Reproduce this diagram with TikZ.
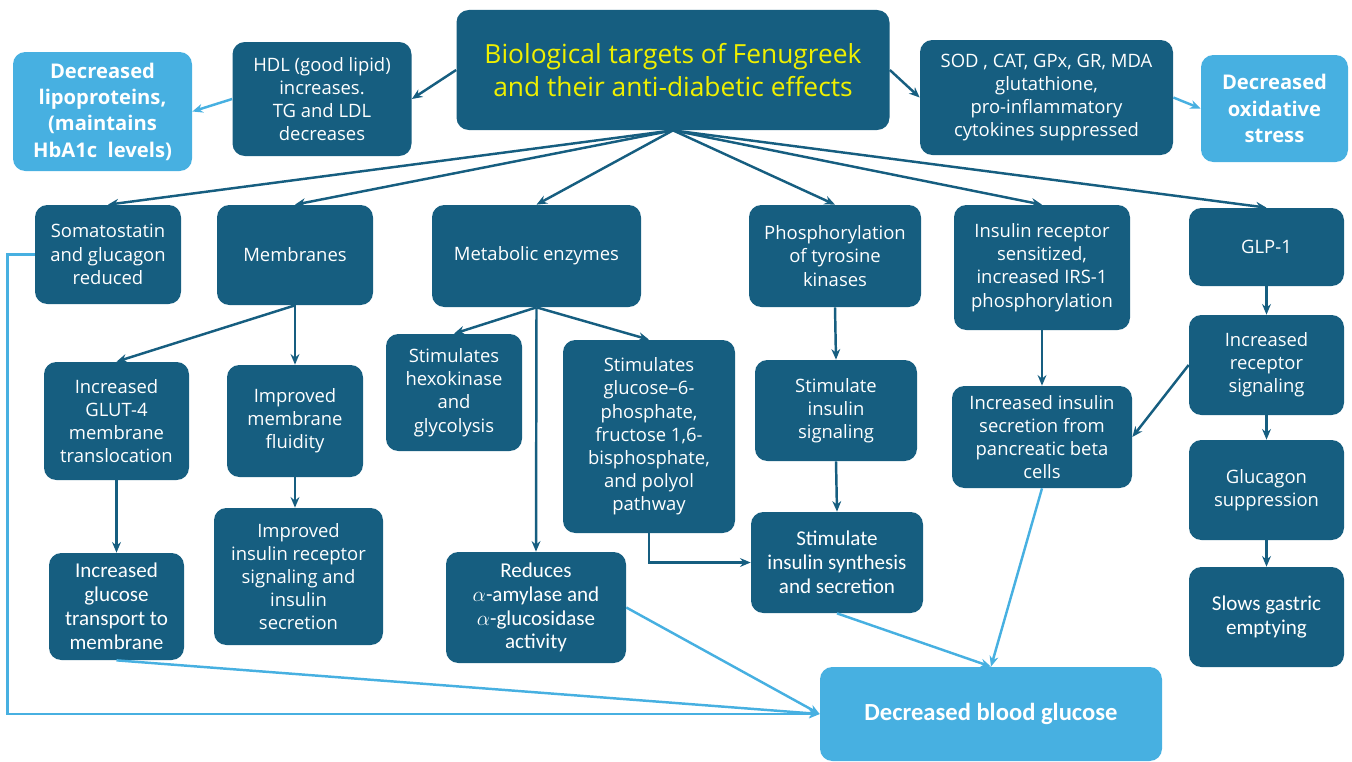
\documentclass[tikz,border=0pt]{standalone}
\usepackage{fontspec}
\setmainfont{Open Sans}
\newfontfamily\narrowfont{Carlito}
\usepackage{xcolor}
\usetikzlibrary{arrows.meta,positioning}

\definecolor{darkbox}{RGB}{22,94,128}
\definecolor{lightbox}{RGB}{71,176,225}
\definecolor{titletext}{RGB}{240,240,0}

\begin{document}
\begin{tikzpicture}[
    font=\fontsize{10.5}{13.2}\selectfont,
    box/.style={rectangle, rounded corners=7pt, fill=darkbox, text=white, align=center, inner sep=2pt},
    outbox/.style={rectangle, rounded corners=7pt, fill=lightbox, text=white, align=center, inner sep=2pt,
        font=\fontsize{11.5}{15}\selectfont\bfseries},
    narrow/.style={font=\narrowfont\fontsize{12}{13.6}\selectfont},
    arr/.style={-{Stealth[length=6pt,width=5pt]}, line width=1.4pt, darkbox},
    larr/.style={-{Stealth[length=6pt,width=5pt]}, line width=1.4pt, lightbox}
]
\useasboundingbox (0,0) rectangle (27.04,-15.24);

% top row
\node[box, minimum width=8.66cm, minimum height=2.4cm, text=titletext,
      font=\fontsize{15}{19}\selectfont] (title) at (13.46,-1.40)
  {Biological targets of Fenugreek\\and their anti-diabetic effects};
\node[box, minimum width=3.58cm, minimum height=2.28cm] (hdl) at (6.44,-1.98)
  {HDL (good lipid)\\increases.\\TG and LDL\\decreases};
\node[outbox, minimum width=3.58cm, minimum height=2.38cm] (lipo) at (2.05,-2.23)
  {Decreased\\lipoproteins,\\(maintains\\HbA1c\ \ levels)};
\node[box, minimum width=5.06cm, minimum height=2.30cm] (sod) at (20.93,-1.95)
  {SOD , CAT, GPx, GR, MDA\\glutathione,\\pro-inflammatory\\cytokines suppressed};
\node[outbox, minimum width=2.94cm, minimum height=2.14cm] (oxi) at (25.49,-2.17)
  {Decreased\\oxidative\\stress};

% targets
\node[box, minimum width=2.92cm, minimum height=1.98cm] (soma) at (2.16,-5.09)
  {Somatostatin\\and glucagon\\reduced};
\node[box, minimum width=3.12cm, minimum height=2.00cm] (memb) at (5.90,-5.10) {Membranes};
\node[box, minimum width=4.18cm, minimum height=2.04cm] (meta) at (10.73,-5.12) {Metabolic enzymes};
\node[box, minimum width=3.44cm, minimum height=2.04cm] (phos) at (16.70,-5.12)
  {Phosphorylation\\of tyrosine\\kinases};
\node[box, minimum width=3.52cm, minimum height=2.50cm] (irs) at (20.84,-5.35)
  {Insulin receptor\\sensitized,\\increased IRS-1\\phosphorylation};
\node[box, minimum width=3.10cm, minimum height=1.56cm] (glp) at (25.33,-4.94) {GLP-1};

% second level
\node[box, minimum width=2.90cm, minimum height=2.36cm] (glut) at (2.33,-8.42)
  {Increased\\GLUT-4\\membrane\\translocation};
\node[box, minimum width=2.72cm, minimum height=2.24cm] (fluid) at (5.90,-8.42)
  {Improved\\membrane\\fluidity};
\node[box, minimum width=2.72cm, minimum height=2.34cm] (hexo) at (9.08,-7.85)
  {Stimulates\\hexokinase\\and\\glycolysis};
\node[box, minimum width=3.44cm, minimum height=3.86cm] (gsix) at (12.98,-8.73)
  {Stimulates\\glucose--6-\\phosphate,\\fructose 1,6-\\bisphosphate,\\and polyol\\pathway};
\node[box, minimum width=3.24cm, minimum height=2.02cm] (insig) at (16.72,-8.21)
  {Stimulate\\insulin\\signaling};
\node[box, minimum width=3.60cm, minimum height=2.04cm] (beta) at (20.84,-8.74)
  {Increased insulin\\secretion from\\pancreatic beta\\cells};
\node[box, minimum width=3.10cm, minimum height=2.00cm] (recsig) at (25.33,-7.30)
  {Increased\\receptor\\signaling};
\node[box, minimum width=3.10cm, minimum height=2.00cm] (gluc) at (25.33,-9.80)
  {Glucagon\\suppression};

% third level
\node[box, narrow, minimum width=2.70cm, minimum height=2.14cm] (trans) at (2.33,-12.13)
  {Increased\\glucose\\transport to\\membrane};
\node[box, minimum width=3.38cm, minimum height=2.74cm] (irsec) at (5.97,-11.53)
  {Improved\\insulin receptor\\signaling and\\insulin\\secretion};
\node[box, narrow, minimum width=3.60cm, minimum height=2.22cm] (amyl) at (10.72,-12.15)
  {Reduces\\$\alpha$-amylase and\\$\alpha$-glucosidase\\activity};
\node[box, narrow, minimum width=3.44cm, minimum height=2.02cm] (synth) at (16.74,-11.25)
  {Stimulate\\insulin synthesis\\and secretion};
\node[box, narrow, minimum width=3.10cm, minimum height=2.00cm] (gast) at (25.33,-12.34)
  {Slows gastric\\emptying};
\node[outbox, minimum width=6.84cm, minimum height=1.88cm,
      font=\narrowfont\fontsize{14}{16}\selectfont\bfseries] (blood) at (19.82,-14.28)
  {Decreased blood glucose};

% connectors from title
\draw[arr] (title.west) -- (hdl.east);
\draw[arr] (title.east) -- (sod.west);
\draw[larr] (hdl.west) -- (lipo.east);
\draw[larr] (sod.east) -- (oxi.west);
\foreach \t in {soma,memb,meta,phos,irs,glp}
  \draw[arr] (title.south) -- (\t.north);

% left branches
\draw[arr] (memb.south) -- (glut.north);
\draw[arr] (memb.south) -- (fluid.north);
\draw[arr] (glut.south) -- (trans.north);
\draw[arr] (fluid.south) -- (fluid.south |- irsec.north);
\draw[arr] (meta.south) -- (hexo.north);
\draw[arr] (meta.south) -- (gsix.north);
\draw[arr] (meta.south) -- (amyl.north);
\draw[arr] (gsix.south) |- (synth.west);

% right branches
\draw[arr] (phos.south) -- (insig.north);
\draw[arr] (insig.south) -- (synth.north);
\draw[arr] (irs.south) -- (beta.north);
\draw[arr] (glp.south) -- (recsig.north);
\draw[arr] (recsig.west) -- (beta.east);
\draw[arr] (recsig.south) -- (gluc.north);
\draw[arr] (gluc.south) -- (gast.north);

% to blood glucose
\draw[larr] (soma.west) -- ++(-0.54,0) |- (blood.west);
\draw[larr] (trans.south) -- (blood.west);
\draw[larr] (amyl.east) -- (blood.west);
\draw[larr] (synth.south) -- (blood.north);
\draw[larr] (beta.south) -- (blood.north);
\end{tikzpicture}
\end{document}
